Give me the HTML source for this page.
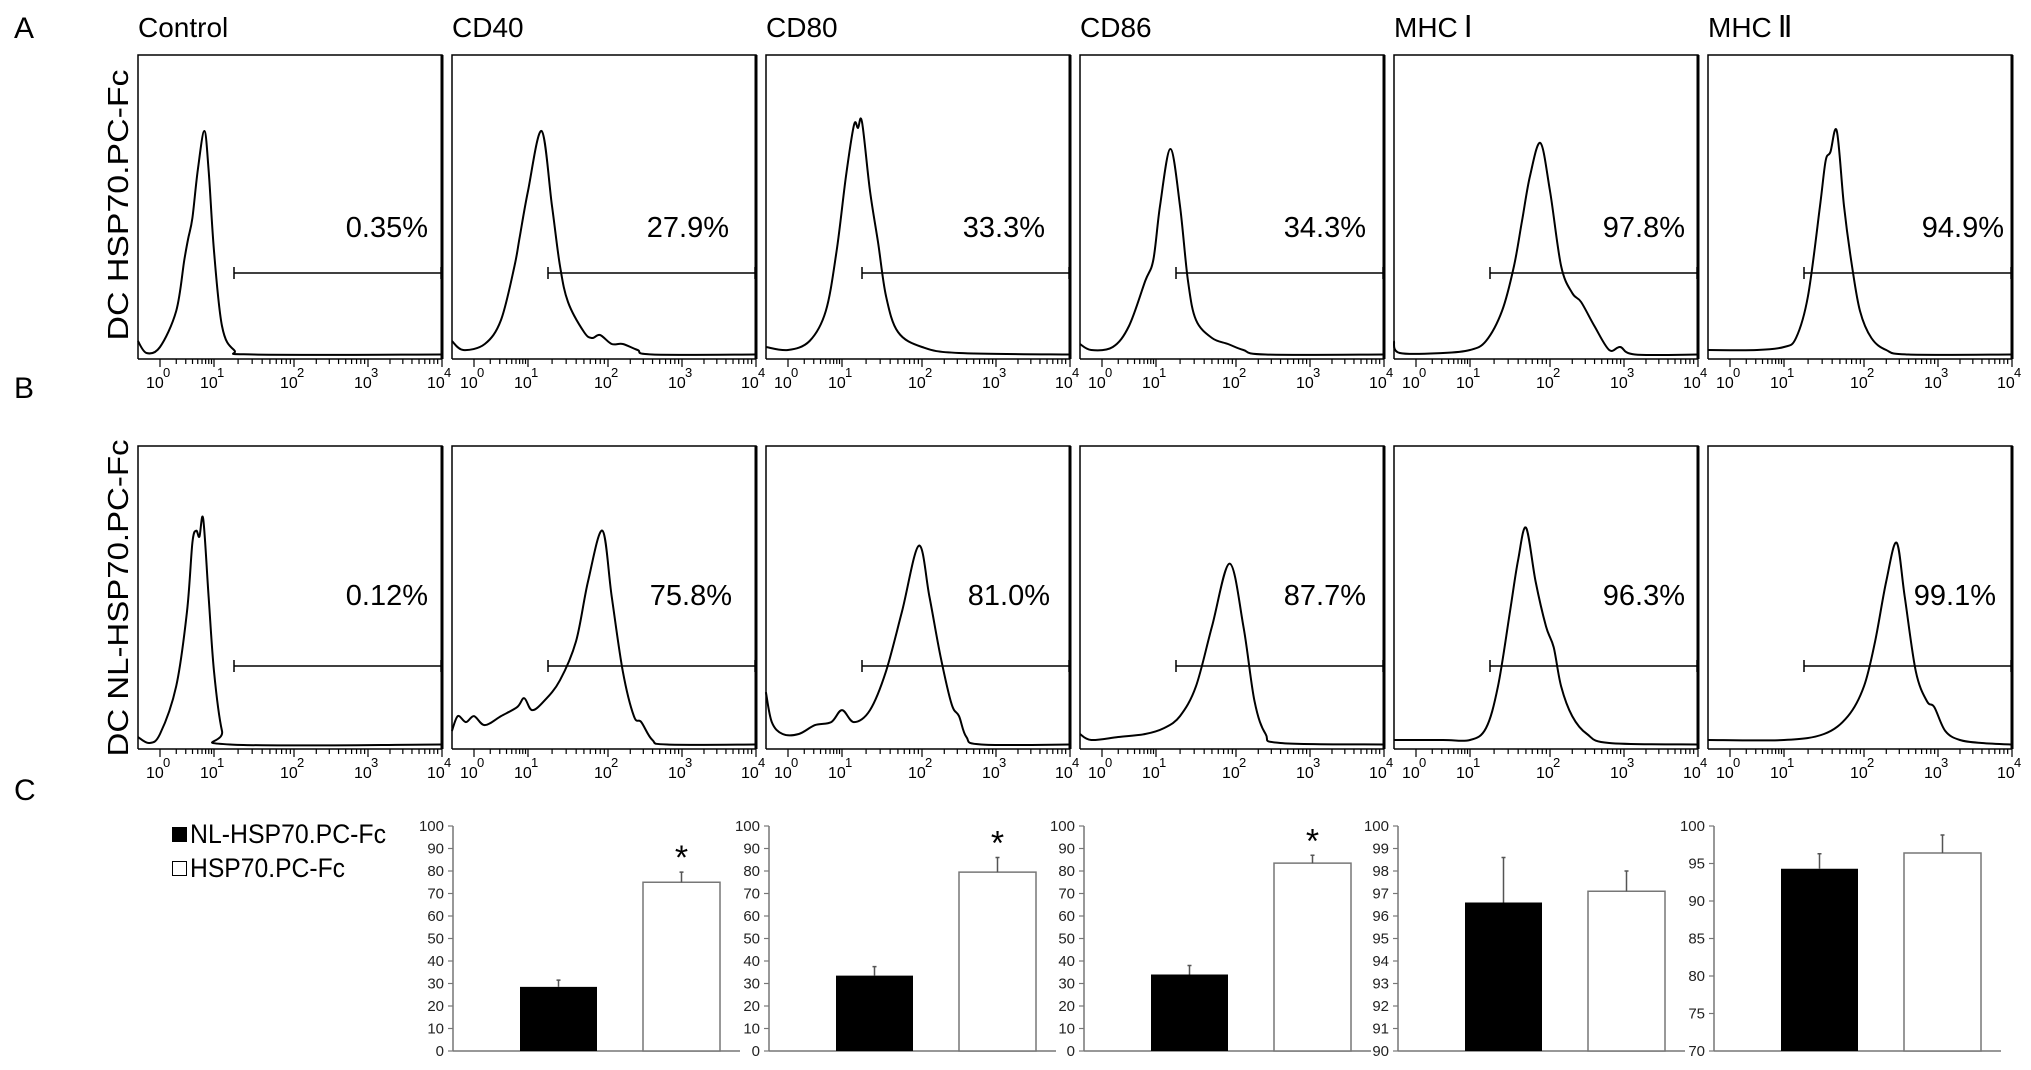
<!DOCTYPE html>
<html><head><meta charset="utf-8">
<style>
html,body{margin:0;padding:0;background:#fff;}
svg{display:block;font-family:"Liberation Sans",Arial,sans-serif;}
</style></head>
<body>
<svg id="fig" width="2031" height="1070" viewBox="0 0 2031 1070" xmlns="http://www.w3.org/2000/svg">
<text x="14" y="38" font-size="30">A</text>
<text x="14" y="398" font-size="30">B</text>
<text x="14" y="800" font-size="30">C</text>
<text transform="translate(128,205) rotate(-90)" text-anchor="middle" font-size="29" textLength="271" lengthAdjust="spacingAndGlyphs">DC HSP70.PC-Fc</text>
<text transform="translate(128,598) rotate(-90)" text-anchor="middle" font-size="29" textLength="317" lengthAdjust="spacingAndGlyphs">DC NL-HSP70.PC-Fc</text>
<g>
<rect x="172" y="827" width="15" height="15" fill="#000"/>
<text x="190" y="843" font-size="27" textLength="196" lengthAdjust="spacingAndGlyphs">NL-HSP70.PC-Fc</text>
<rect x="172.5" y="861.5" width="14" height="14" fill="#fff" stroke="#000" stroke-width="1"/>
<text x="190" y="877" font-size="27" textLength="155" lengthAdjust="spacingAndGlyphs">HSP70.PC-Fc</text>
</g>
<g id="hist"></g>
<g id="bars"></g>
</svg>
<script>
// ---------- Histogram data (log10 fluorescence, relative count) ----------
const markers = ["Control","CD40","CD80","CD86","MHC","MHC"];
const markerNumerals = ["","","","","Ⅰ","Ⅱ"];
const pctA = ["0.35%","27.9%","33.3%","34.3%","97.8%","94.9%"];
const pctB = ["0.12%","75.8%","81.0%","87.7%","96.3%","99.1%"];
const pctRightA = [14,27,25,18,13,8];
const pctRightB = [14,24,20,18,13,16];
const histA_control = [[-0.41,0.05],[-0.25,0.01],[0,0.03],[0.3,0.15],[0.45,0.32],[0.52,0.39],[0.6,0.46],[0.7,0.62],[0.82,0.75],[0.9,0.62],[1.0,0.35],[1.1,0.1],[1.25,0.02],[1.5,0.005],[4,0.005]];
const histA_cd40 = [[-0.41,0.05],[-0.2,0.02],[0.2,0.04],[0.5,0.12],[0.75,0.3],[0.85,0.4],[1.0,0.55],[1.17,0.75],[1.3,0.5],[1.4,0.3],[1.5,0.18],[1.7,0.08],[1.8,0.06],[1.9,0.07],[2.05,0.04],[2.2,0.04],[2.4,0.02],[2.6,0.005],[4,0.005]];
const histA_cd80 = [[-0.41,0.03],[0,0.02],[0.4,0.05],[0.7,0.15],[0.9,0.35],[1.05,0.6],[1.15,0.77],[1.2,0.76],[1.25,0.78],[1.35,0.55],[1.45,0.38],[1.55,0.2],[1.7,0.08],[2.0,0.03],[2.5,0.01],[4,0.005]];
const histA_cd86 = [[-0.41,0.04],[-0.2,0.02],[0.2,0.03],[0.5,0.1],[0.8,0.25],[0.95,0.32],[1.05,0.5],[1.18,0.69],[1.3,0.5],[1.4,0.25],[1.5,0.12],[1.7,0.06],[1.9,0.04],[2.1,0.02],[2.4,0.005],[4,0.005]];
const histA_mhc1 = [[-0.41,0.05],[-0.3,0.01],[0.5,0.01],[1.0,0.02],[1.2,0.05],[1.4,0.15],[1.55,0.3],[1.65,0.45],[1.75,0.6],[1.88,0.71],[2.0,0.55],[2.15,0.3],[2.3,0.21],[2.42,0.18],[2.6,0.1],[2.8,0.02],[2.95,0.03],[3.15,0.005],[4,0.005]];
const histA_mhc2 = [[-0.41,0.02],[0.5,0.02],[1.0,0.03],[1.15,0.06],[1.3,0.2],[1.45,0.5],[1.52,0.65],[1.58,0.68],[1.66,0.75],[1.75,0.5],[1.85,0.3],[1.95,0.15],[2.1,0.06],[2.3,0.02],[2.6,0.005],[4,0.005]];
const histB_control = [[-0.41,0.03],[-0.2,0.01],[0,0.04],[0.3,0.2],[0.5,0.45],[0.6,0.68],[0.67,0.72],[0.73,0.7],[0.8,0.76],[0.9,0.5],[1.0,0.25],[1.1,0.05],[1.2,0.005],[4,0.005]];
const histB_cd40 = [[-0.41,0.05],[-0.3,0.1],[-0.15,0.08],[0,0.1],[0.2,0.07],[0.5,0.1],[0.8,0.13],[0.93,0.16],[1.05,0.12],[1.2,0.15],[1.4,0.22],[1.6,0.35],[1.75,0.55],[1.93,0.72],[2.05,0.5],[2.2,0.25],[2.35,0.1],[2.45,0.08],[2.6,0.02],[2.8,0.005],[4,0.005]];
const histB_cd80 = [[-0.41,0.18],[-0.3,0.08],[-0.1,0.04],[0.2,0.04],[0.5,0.07],[0.8,0.08],[1.0,0.12],[1.15,0.08],[1.35,0.12],[1.55,0.25],[1.75,0.45],[1.96,0.67],[2.1,0.5],[2.25,0.3],[2.4,0.14],[2.5,0.1],[2.6,0.03],[2.8,0.005],[4,0.005]];
const histB_cd86 = [[-0.41,0.04],[-0.2,0.02],[0.3,0.03],[0.8,0.04],[1.1,0.06],[1.3,0.1],[1.5,0.2],[1.7,0.4],[1.92,0.61],[2.1,0.4],[2.25,0.15],[2.4,0.04],[2.6,0.01],[4,0.005]];
const histB_mhc1 = [[-0.41,0.02],[0.5,0.02],[1.0,0.02],[1.2,0.06],[1.35,0.2],[1.5,0.45],[1.6,0.62],[1.7,0.73],[1.82,0.55],[1.95,0.4],[2.05,0.33],[2.15,0.2],[2.3,0.1],[2.5,0.04],[2.8,0.01],[4,0.005]];
const histB_mhc2 = [[-0.41,0.02],[1.0,0.02],[1.5,0.04],[1.8,0.1],[2.0,0.2],[2.15,0.35],[2.3,0.55],[2.44,0.68],[2.55,0.5],[2.7,0.25],[2.85,0.15],[2.95,0.13],[3.1,0.05],[3.3,0.02],[3.6,0.01],[4,0.005]];
const gateStartLog = [1.25,1.25,1.25,1.25,1.25,1.25];

// ---------- Bar chart data ----------
const barMarkers = ["CD40","CD80","CD86","MHC Ⅰ","MHC Ⅱ"];
const nlValues = [28.5,33.5,34,96.6,94.3];
const nlErr = [3,4,4,2,2];
const hspValues = [75,79.5,83.5,97.1,96.4];
const hspErr = [4.5,6.5,3.5,0.9,2.4];
const yMin = [0,0,0,90,70];
const yMax = [100,100,100,100,100];
const yStep = [10,10,10,1,5];
const significant = [true,true,true,false,false];

const NS="http://www.w3.org/2000/svg";
function mk(tag,attrs,parent){const e=document.createElementNS(NS,tag);for(const k in attrs)e.setAttribute(k,attrs[k]);parent.appendChild(e);return e;}

const panelLefts=[138,452,766,1080,1394,1708];
const PW=304;
const rows=[{top:55,axis:359,hists:[histA_control,histA_cd40,histA_cd80,histA_cd86,histA_mhc1,histA_mhc2],pct:pctA,pr:pctRightA,gateY:273,pctY:237,name:'a'},
            {top:446,axis:749,hists:[histB_control,histB_cd40,histB_cd80,histB_cd86,histB_mhc1,histB_mhc2],pct:pctB,pr:pctRightB,gateY:666,pctY:605,name:'b'}];
const decPos=[22,76,156,230,303];
function xLog(left,l){
  if(l<=0) return left+decPos[0]+l*(decPos[1]-decPos[0]);
  const i=Math.min(3,Math.floor(l));const f=l-i;
  return left+decPos[i]+f*(decPos[i+1]-decPos[i]);
}
function smoothPath(pts){
  let d='M'+pts[0][0].toFixed(1)+','+pts[0][1].toFixed(1);
  for(let i=0;i<pts.length-1;i++){
    const p0=pts[Math.max(0,i-1)],p1=pts[i],p2=pts[i+1],p3=pts[Math.min(pts.length-1,i+2)];
    const c1=[p1[0]+(p2[0]-p0[0])/6,p1[1]+(p2[1]-p0[1])/6];
    const c2=[p2[0]-(p3[0]-p1[0])/6,p2[1]-(p3[1]-p1[1])/6];
    d+=' C'+c1[0].toFixed(1)+','+c1[1].toFixed(1)+' '+c2[0].toFixed(1)+','+c2[1].toFixed(1)+' '+p2[0].toFixed(1)+','+p2[1].toFixed(1);
  }
  return d;
}
const hg=document.getElementById('hist');
markers.forEach((m,c)=>{
  const t=mk('text',{x:panelLefts[c],y:37,'font-size':28},hg);
  t.textContent=m;
  if(markerNumerals[c]){
    const sp=mk('tspan',{'font-family':'"Liberation Serif",serif','font-size':30,dx:6},t);
    sp.textContent=markerNumerals[c];
  }
  
  
});
rows.forEach(r=>{
  const H=r.axis-r.top-4;
  panelLefts.forEach((L,c)=>{
    const g=mk('g',{},hg);
    
    
    mk('path',{d:`M${L},${r.axis} L${L},${r.top} L${L+PW},${r.top} L${L+PW},${r.axis}`,fill:'none',stroke:'#000','stroke-width':1.5},g);
    mk('line',{x1:L+PW,y1:r.top,x2:L+PW,y2:r.axis,stroke:'#000','stroke-width':3},g);
    mk('line',{x1:L,y1:r.axis,x2:L+PW,y2:r.axis,stroke:'#000','stroke-width':1.5},g);
    for(let d=0;d<4;d++){for(let k=1;k<10;k++){const l=d+Math.log10(k);const x=xLog(L,l);
      mk('line',{x1:x,y1:r.axis,x2:x,y2:r.axis+(k===1?8:5),stroke:'#000','stroke-width':1.2},g);}}
    mk('line',{x1:L+PW,y1:r.axis,x2:L+PW,y2:r.axis+8,stroke:'#000','stroke-width':1.2},g);
    for(let d=0;d<=4;d++){const x=xLog(L,d);
      const tl=mk('text',{x:x-14,y:r.axis+29,'font-size':16},g);tl.textContent='10';
      
      
      const ts=mk('text',{x:x+3,y:r.axis+18,'font-size':13},g);ts.textContent=String(d);
      
      }
    const pts=r.hists[c].map(p=>[xLog(L,p[0]),r.axis-3-p[1]*H]);
    pts[pts.length-1][0]=L+PW;
    const cv=mk('path',{d:smoothPath(pts),fill:'none',stroke:'#000','stroke-width':2},g);
    
    
    const gx=xLog(L,gateStartLog[c]);
    const gl=mk('path',{d:`M${gx},${r.gateY-6} L${gx},${r.gateY+6} M${gx},${r.gateY} L${L+PW},${r.gateY} M${L+PW-1},${r.gateY-6} L${L+PW-1},${r.gateY+6}`,stroke:'#000','stroke-width':1.5,fill:'none'},g);
    
    
    const pt=mk('text',{x:L+PW-r.pr[c],y:r.pctY,'font-size':29,'text-anchor':'end'},g);
    pt.textContent=r.pct[c];
    
    
  });
});

const bg=document.getElementById('bars');
const axisXs=[453,769,1084,1398,1714];
const Y100=826,Y0=1051;
barMarkers.forEach((m,i)=>{
  const A=axisXs[i];
  const g=mk('g',{},bg);
  
  
  const ys=v=>Y0-(v-yMin[i])/(yMax[i]-yMin[i])*(Y0-Y100);
  mk('line',{x1:A,y1:Y100,x2:A,y2:Y0,stroke:'#777','stroke-width':1.5},g);
  mk('line',{x1:A,y1:Y0,x2:A+287,y2:Y0,stroke:'#777','stroke-width':1.5},g);
  for(let v=yMin[i];v<=yMax[i]+1e-9;v+=yStep[i]){
    const y=ys(v);
    mk('line',{x1:A-5,y1:y,x2:A,y2:y,stroke:'#777','stroke-width':1.2},g);
    const t=mk('text',{x:A-9,y:y+5,'font-size':15,'text-anchor':'end',fill:'#222'},g);
    t.textContent=String(v);
    
    
  }
  const bw=77;
  const y1=ys(nlValues[i]);
  const b1=mk('rect',{x:A+67,y:y1,width:bw,height:Y0-y1,fill:'#000'},g);
  
  
  const xc1=A+67+bw/2, ye1=ys(nlValues[i]+nlErr[i]);
  mk('path',{d:`M${xc1},${y1} L${xc1},${ye1} M${xc1-2},${ye1} L${xc1+2},${ye1}`,stroke:'#555','stroke-width':1.5},g);
  const y2=ys(hspValues[i]);
  const b2=mk('rect',{x:A+190,y:y2,width:bw,height:Y0-y2,fill:'#fff',stroke:'#777','stroke-width':1.5},g);
  
  
  const xc2=A+190+bw/2, ye2=ys(hspValues[i]+hspErr[i]);
  mk('path',{d:`M${xc2},${y2} L${xc2},${ye2} M${xc2-2},${ye2} L${xc2+2},${ye2}`,stroke:'#555','stroke-width':1.5},g);
  if(significant[i]){
    const s=mk('text',{x:xc2,y:ye2-3,'font-size':34,'text-anchor':'middle'},g);
    s.textContent='*';
    
    
  }
});
</script>
</body></html>
